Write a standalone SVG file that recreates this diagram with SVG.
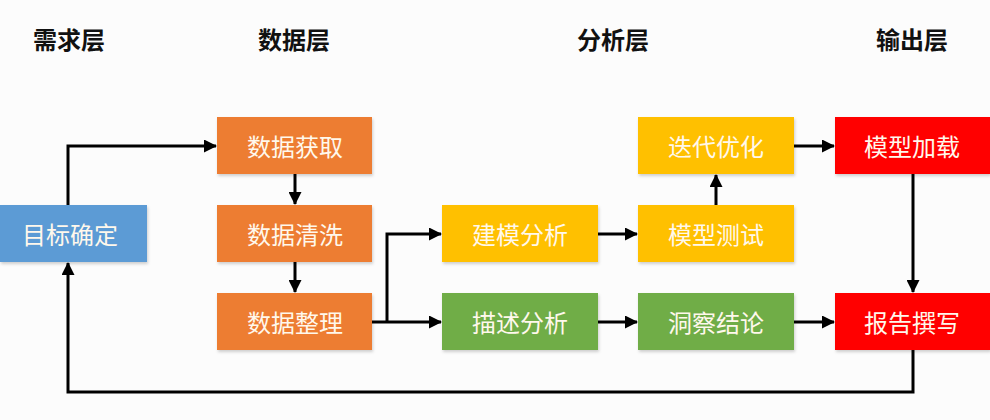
<svg xmlns="http://www.w3.org/2000/svg" width="990" height="420" viewBox="0 0 990 420">
<defs>
<marker id="ah" markerWidth="13" markerHeight="13" refX="12" refY="6.5" orient="auto" markerUnits="userSpaceOnUse" viewBox="0 0 13 13">
<path d="M0,0 L13,6.5 L0,13 z" fill="#000"/>
</marker>
<filter id="sh" x="-10%" y="-10%" width="130%" height="140%">
<feDropShadow dx="1" dy="2" stdDeviation="1.5" flood-color="#000" flood-opacity="0.18"/>
</filter>
</defs>
<style>
.hd{font-family:"Noto Sans CJK SC","Noto Sans",sans-serif;font-size:24px;font-weight:bold;fill:#111;text-anchor:middle;dominant-baseline:central}
.bx{filter:url(#sh)}
.t{font-family:"Noto Sans CJK SC","Noto Sans",sans-serif;font-size:24px;fill:#FFF8EC;text-anchor:middle;dominant-baseline:central}
.blue{fill:#5B9BD5}.orange{fill:#ED7D31}.yellow{fill:#FFC000}.green{fill:#70AD47}.red{fill:#FF0000}
.ca{fill:none;stroke:#000;stroke-width:3;marker-end:url(#ah)}
</style>
<rect width="990" height="420" fill="#FCFCFC"/>
<g id="headers">
<text class="hd" x="69" y="38">需求层</text>
<text class="hd" x="294" y="38">数据层</text>
<text class="hd" x="613" y="38">分析层</text>
<text class="hd" x="912" y="38">输出层</text>
</g>
<g id="connectors">
<polyline class="ca" points="68,205 68,146 216,146"/>
<line class="ca" x1="295" y1="174" x2="295" y2="204"/>
<line class="ca" x1="295" y1="262" x2="295" y2="292"/>
<line class="ca" x1="372" y1="322" x2="441" y2="322"/>
<polyline class="ca" points="387,322 387,234 441,234"/>
<line class="ca" x1="598" y1="234" x2="637" y2="234"/>
<line class="ca" x1="598" y1="322" x2="637" y2="322"/>
<line class="ca" x1="716" y1="205" x2="716" y2="175"/>
<line class="ca" x1="794" y1="146" x2="834" y2="146"/>
<line class="ca" x1="794" y1="322" x2="834" y2="322"/>
<line class="ca" x1="913" y1="174" x2="913" y2="292"/>
<polyline class="ca" points="913,350 913,392 68,392 68,263"/>
</g>
<g id="n-mubiao"><rect class="bx blue" x="0" y="205" width="147" height="57"/><text class="t" x="70" y="233">目标确定</text></g>
<g id="n-huoqu"><rect class="bx orange" x="217" y="117" width="155" height="57"/><text class="t" x="295" y="145">数据获取</text></g>
<g id="n-qingxi"><rect class="bx orange" x="217" y="205" width="155" height="57"/><text class="t" x="295" y="233">数据清洗</text></g>
<g id="n-zhengli"><rect class="bx orange" x="217" y="293" width="155" height="57"/><text class="t" x="295" y="321">数据整理</text></g>
<g id="n-jianmo"><rect class="bx yellow" x="442" y="205" width="156" height="57"/><text class="t" x="520" y="233">建模分析</text></g>
<g id="n-miaoshu"><rect class="bx green" x="442" y="293" width="156" height="57"/><text class="t" x="520" y="321">描述分析</text></g>
<g id="n-diedai"><rect class="bx yellow" x="638" y="117" width="156" height="57"/><text class="t" x="716" y="145">迭代优化</text></g>
<g id="n-ceshi"><rect class="bx yellow" x="638" y="205" width="156" height="57"/><text class="t" x="716" y="233">模型测试</text></g>
<g id="n-dongcha"><rect class="bx green" x="638" y="293" width="156" height="57"/><text class="t" x="716" y="321">洞察结论</text></g>
<g id="n-jiazai"><rect class="bx red" x="835" y="117" width="155" height="57"/><text class="t" x="912" y="145">模型加载</text></g>
<g id="n-baogao"><rect class="bx red" x="835" y="293" width="155" height="57"/><text class="t" x="912" y="321">报告撰写</text></g>
</svg>
